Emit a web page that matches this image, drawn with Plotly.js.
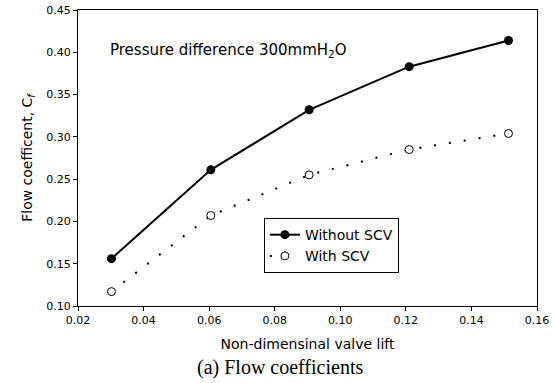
<!DOCTYPE html>
<html>
<head>
<meta charset="utf-8">
<script src="https://cdn.plot.ly/plotly-3.0.1.min.js"></script>
<style>
html, body { margin: 0; padding: 0; background: #ffffff; }
#chart { width: 554px; height: 383px; }
</style>
</head>
<body>
<div id="chart"></div>
<script>
// Data
const valveLift = [0.0302, 0.0605, 0.0905, 0.121, 0.1513];
const withoutSCV = [0.156, 0.261, 0.332, 0.383, 0.414];
const withSCV = [0.117, 0.207, 0.255, 0.285, 0.304];
const seriesNames = ['Without SCV', 'With SCV'];
const xTicks = [0.02, 0.04, 0.06, 0.08, 0.10, 0.12, 0.14, 0.16];
const yTicks = [0.10, 0.15, 0.20, 0.25, 0.30, 0.35, 0.40, 0.45];

const sans = 'DejaVu Sans, Arial, sans-serif';

const traces = [
  {
    x: valveLift, y: withoutSCV, name: seriesNames[0],
    type: 'scatter', mode: 'lines+markers',
    line: { color: '#000000', width: 2 },
    marker: { symbol: 'circle', size: 9, color: '#000000' }
  },
  {
    x: valveLift, y: withSCV, name: seriesNames[1],
    type: 'scatter', mode: 'lines+markers',
    line: { color: '#000000', width: 2, dash: '2px,13px' },
    marker: { symbol: 'circle', size: 8, color: '#ffffff', line: { width: 1, color: '#000000' } }
  }
];

const layout = {
  width: 554, height: 383,
  margin: { l: 78, r: 17, t: 10, b: 77 },
  paper_bgcolor: '#ffffff', plot_bgcolor: '#ffffff',
  showlegend: true,
  legend: {
    x: 0.405, y: 0.297, xanchor: 'left', yanchor: 'top',
    bordercolor: '#000000', borderwidth: 1, bgcolor: '#ffffff',
    font: { family: sans, size: 14, color: '#000000' },
    itemwidth: 30
  },
  xaxis: {
    range: [0.02, 0.16],
    tickvals: xTicks, ticktext: xTicks.map(v => v.toFixed(2)),
    ticks: 'outside', ticklen: 4, tickwidth: 1, tickcolor: '#000000',
    showline: true, linecolor: '#000000', linewidth: 1, mirror: true,
    showgrid: false, zeroline: false,
    tickfont: { family: sans, size: 11, color: '#000000' },
    title: { text: 'Non-dimensinal valve lift', font: { family: sans, size: 14, color: '#000000' }, standoff: 12 }
  },
  yaxis: {
    range: [0.10, 0.45],
    tickvals: yTicks, ticktext: yTicks.map(v => v.toFixed(2)),
    ticks: 'outside', ticklen: 4, tickwidth: 1, tickcolor: '#000000',
    showline: true, linecolor: '#000000', linewidth: 1, mirror: true,
    showgrid: false, zeroline: false,
    tickfont: { family: sans, size: 11, color: '#000000' },
    title: { text: 'Flow coefficent, C<sub><i>f</i></sub>', font: { family: sans, size: 14, color: '#000000' }, standoff: 10 }
  },
  annotations: [
    {
      xref: 'x', yref: 'y', x: 0.0291, y: 0.4027,
      xanchor: 'left', yanchor: 'middle', showarrow: false,
      text: 'Pressure difference 300mmH<sub>2</sub>O',
      font: { family: sans, size: 15, color: '#000000' }
    },
    {
      xref: 'paper', yref: 'paper', x: (280 - 78) / 459, y: -(367 - 306) / 296,
      xanchor: 'center', yanchor: 'middle', showarrow: false,
      text: '(a) Flow coefficients',
      font: { family: 'Liberation Serif, Times New Roman, serif', size: 20, color: '#000000' }
    }
  ]
};

Plotly.newPlot('chart', traces, layout, { staticPlot: true, displayModeBar: false });
</script>
</body>
</html>
